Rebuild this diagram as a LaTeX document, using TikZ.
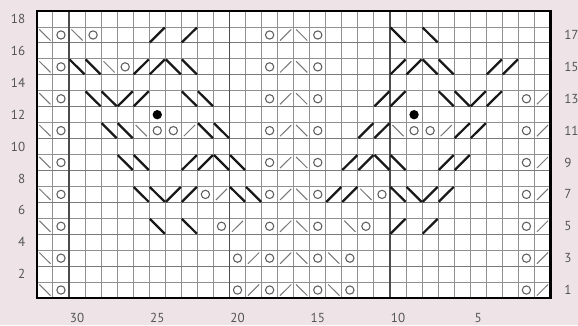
\documentclass[tikz,border=0pt]{standalone}
\usepackage{fontspec}
\setmainfont{PT Sans}
\definecolor{bg}{RGB}{238,228,232}
\definecolor{gridc}{RGB}{145,145,145}
\definecolor{gridd}{RGB}{120,120,120}
\definecolor{symc}{RGB}{95,95,95}
\definecolor{labc}{RGB}{85,85,85}
\tikzset{
  minorline/.style={draw=gridc, line width=0.7pt},
  minordark/.style={draw=gridd, line width=0.8pt},
  majorline/.style={draw=black!70, line width=0.9pt},
  borderline/.style={draw=black, line width=1.9pt},
  yo/.style={draw=symc, line width=0.8pt},
  thinsym/.style={draw=symc!85, line width=0.75pt},
  thicksym/.style={draw=black!90, line width=1.7pt},
  lab/.style={text=labc, font=\fontsize{9.8}{11}\selectfont, inner sep=0pt}
}
\newcommand\symo[2]{\draw[yo] (#1-0.5,#2-0.5) circle[radius=3.1pt];}
\newcommand\symk[2]{\draw[thinsym] (#1-0.15,#2-0.85) -- (#1-0.85,#2-0.15);}
\newcommand\syms[2]{\draw[thinsym] (#1-0.15,#2-0.15) -- (#1-0.85,#2-0.85);}
\newcommand\symR[2]{\draw[thicksym] (#1-0.03,#2-0.97) -- (#1-0.97,#2-0.03);}
\newcommand\symL[2]{\draw[thicksym] (#1-0.03,#2-0.03) -- (#1-0.97,#2-0.97);}
\newcommand\symdot[2]{\fill[black] (#1-0.5,#2-0.5) circle[radius=3.5pt];}
\begin{document}
\begin{tikzpicture}[x=0.75pt,y=-0.75pt]
\useasboundingbox (0,0) rectangle (578,325);
\fill[bg] (0,0) rectangle (578,325);
\fill[white] (36.9,11) rectangle (550.5,298);
\begin{scope}[shift={(550.5,298)}, x={(-12.0375pt,0pt)}, y={(0pt,11.955pt)}]
  % grid
  \foreach \i in {1,...,31} \draw[minorline] (\i,0) -- (\i,18);
  \foreach \j in {1,3,...,17} \draw[minorline] (0,\j) -- (32,\j);
  \foreach \j in {2,4,...,16} \draw[minordark] (0,\j) -- (32,\j);
  \foreach \i in {10,20,30} \draw[majorline] (\i,0) -- (\i,18);
  \draw[borderline] (0,0) rectangle (32,18);
  % edges: left \o on rows 1-17, right o/ on rows 1-13
  \foreach \r in {1,3,...,17} {\syms{32}{\r}\symo{31}{\r}}
  \foreach \r in {1,3,...,13} {\symo{2}{\r}\symk{1}{\r}}
  % centre column o / \ o on rows 1-17
  \foreach \r in {1,3,...,17} {\symo{18}{\r}\symk{17}{\r}\syms{16}{\r}\symo{15}{\r}}
  % rows 1 and 3
  \foreach \r in {1,3} {\symo{20}{\r}\symk{19}{\r}\syms{14}{\r}\symo{13}{\r}}
  % row 5
  \symL{25}{5}\symL{23}{5}
  \symo{21}{5}\symk{20}{5}\syms{13}{5}\symo{12}{5}
  \symR{10}{5}\symR{8}{5}
  % row 7
  \symL{26}{7}\symL{25}{7}\symR{24}{7}\symR{23}{7}
  \symo{22}{7}\symk{21}{7}\symL{20}{7}\symL{19}{7}
  \symR{14}{7}\symR{13}{7}\syms{12}{7}\symo{11}{7}
  \symL{10}{7}\symL{9}{7}\symR{8}{7}\symR{7}{7}
  % row 9
  \symL{27}{9}\symL{26}{9}
  \symR{23}{9}\symR{22}{9}\symL{21}{9}\symL{20}{9}
  \symR{13}{9}\symR{12}{9}\symL{11}{9}\symL{10}{9}
  \symR{7}{9}\symR{6}{9}
  % row 11
  \symL{28}{11}\symL{27}{11}\syms{26}{11}\symo{25}{11}\symo{24}{11}\symk{23}{11}
  \symL{22}{11}\symL{21}{11}
  \symR{12}{11}\symR{11}{11}
  \syms{10}{11}\symo{9}{11}\symo{8}{11}\symk{7}{11}\symR{6}{11}\symR{5}{11}
  % row 12
  \symdot{25}{12}\symdot{9}{12}
  % row 13
  \symL{29}{13}\symL{28}{13}\symR{27}{13}\symR{26}{13}
  \symL{23}{13}\symL{22}{13}
  \symR{11}{13}\symR{10}{13}
  \symL{7}{13}\symL{6}{13}\symR{5}{13}\symR{4}{13}
  % row 15
  \symL{30}{15}\symL{29}{15}\syms{28}{15}\symo{27}{15}
  \symR{26}{15}\symR{25}{15}\symL{24}{15}\symL{23}{15}
  \symR{10}{15}\symR{9}{15}\symL{8}{15}\symL{7}{15}
  \symR{4}{15}\symR{3}{15}
  % row 17
  \syms{30}{17}\symo{29}{17}
  \symR{25}{17}\symR{23}{17}
  \symL{10}{17}\symL{8}{17}
\end{scope}
% row labels
\foreach \r in {2,4,...,18} {
  \node[lab, anchor=east] (rl\r) at (25.5, {298-15.94*(\r-0.5)}) {\r};
}
\foreach \r in {1,3,...,17} {
  \node[lab, anchor=west] (rr\r) at (564, {298-15.94*(\r-0.5)}) {\r};
}
% column labels
\foreach \c in {30,25,20,15,10,5} {
  \node[lab] (cl\c) at ({550.5-16.05*(\c-0.5)}, 318) {\c};
}
\end{tikzpicture}
\end{document}
